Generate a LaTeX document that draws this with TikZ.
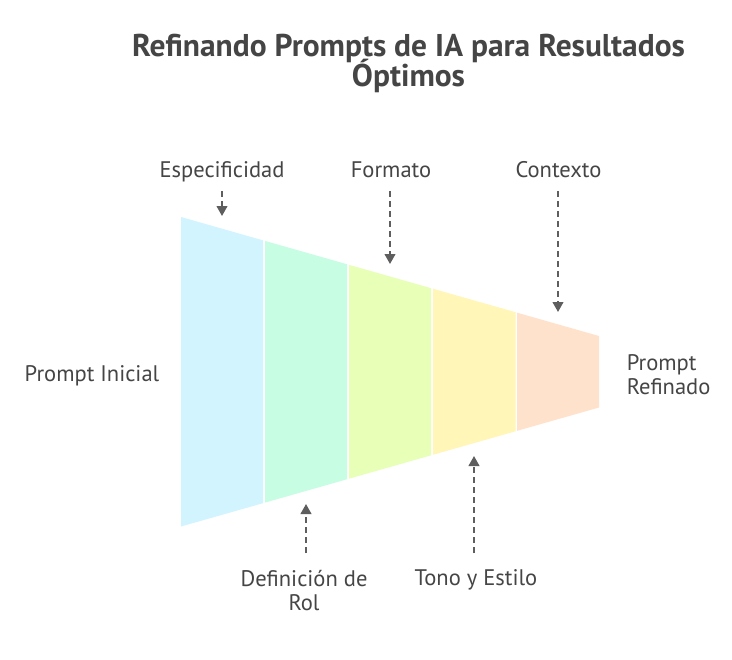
\documentclass[tikz,border=0pt]{standalone}
\usepackage{fontspec}
\setmainfont{PT Sans}
\usetikzlibrary{arrows.meta}
\setlength{\lineskiplimit}{-100pt}
\definecolor{ink}{HTML}{454545}
\definecolor{arrowink}{HTML}{5E5E5E}
\definecolor{segblue}{HTML}{D2F4FF}
\definecolor{segmint}{HTML}{C6FDE3}
\definecolor{seglime}{HTML}{E8FFB8}
\definecolor{segyellow}{HTML}{FFF6B8}
\definecolor{segpeach}{HTML}{FFE2CB}
\tikzset{
  x=0.75pt,y=-0.75pt,
  lbl/.style={inner sep=0pt,text=ink,font=\fontsize{16.9}{18}\selectfont,align=center},
  ttl/.style={inner sep=0pt,text=ink,font=\fontsize{23.6}{22.5}\selectfont\bfseries,align=center},
  pointer/.style={draw=arrowink,line width=1.5pt,dash pattern=on 4.5pt off 3pt,-{Triangle[length=7.5pt,width=8pt]}},
}
\newcommand{\seg}[3]{\fill[#1] (#2,{217+0.2847*(#2-181)}) -- (#3,{217+0.2847*(#3-181)}) -- (#3,{526.5-0.2847*(#3-181)}) -- (#2,{526.5-0.2847*(#2-181)}) -- cycle;}
\begin{document}
\begin{tikzpicture}
\useasboundingbox (0,0) rectangle (732,660);
\fill[white] (0,0) rectangle (732,660);
\node[ttl] (title) at (408.5,63.5) {Refinando Prompts de IA para Resultados\\Óptimos};
\seg{segblue}{181}{263}
\seg{segmint}{265}{347}
\seg{seglime}{349}{431}
\seg{segyellow}{433}{515.5}
\seg{segpeach}{517}{599}
\node[lbl,anchor=base] (esp) at (222,177) {Especificidad};
\node[lbl,anchor=base] (for) at (391,177) {Formato};
\node[lbl,anchor=base] (con) at (558.5,177) {Contexto};
\node[lbl,anchor=base] (ini) at (92,381) {Prompt Inicial};
\node[lbl,align=left,anchor=west] (ref) at (626.5,375) {Prompt\\Refinado};
\node[lbl] (rol) at (304,591) {Definición de\\Rol};
\node[lbl,anchor=base] (ton) at (476,585) {Tono y Estilo};
\coordinate (esps) at (222,191); \coordinate (espe) at (222,216);
\coordinate (fors) at (390,191); \coordinate (fore) at (390,264);
\coordinate (cons) at (558,191); \coordinate (cone) at (558,312);
\coordinate (rols) at (306,553); \coordinate (role) at (306,504);
\coordinate (tons) at (474,553); \coordinate (tone) at (474,456);
\draw[pointer] (esps) -- (espe);
\draw[pointer] (fors) -- (fore);
\draw[pointer] (cons) -- (cone);
\draw[pointer] (rols) -- (role);
\draw[pointer] (tons) -- (tone);
\end{tikzpicture}
\end{document}
